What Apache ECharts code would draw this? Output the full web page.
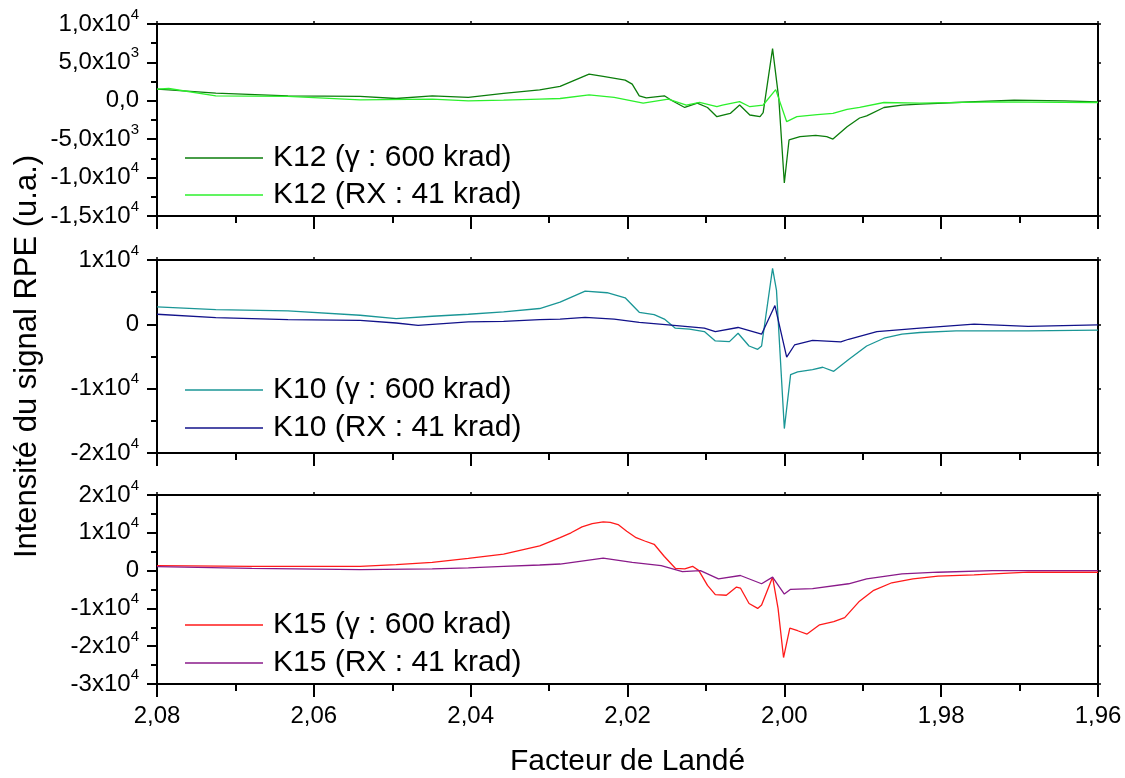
<!DOCTYPE html>
<html>
<head>
<meta charset="utf-8">
<script src="https://cdn.jsdelivr.net/npm/echarts@6/dist/echarts.min.js"></script>
<style>
html,body{margin:0;padding:0;background:#fff;}
#chart{width:1125px;height:778px;}
</style>
</head>
<body>
<div id="chart"></div>
<script>
// ---------- DATA ----------
const xTickValues = [2.08, 2.06, 2.04, 2.02, 2.00, 1.98, 1.96];
const xTickLabels = ['2,08', '2,06', '2,04', '2,02', '2,00', '1,98', '1,96'];

const yTicks1 = [10000, 5000, 0, -5000, -10000, -15000];
const yLabels1 = ['1,0x10^4', '5,0x10^3', '0,0', '-5,0x10^3', '-1,0x10^4', '-1,5x10^4'];
const yTicks2 = [10000, 0, -10000, -20000];
const yLabels2 = ['1x10^4', '0', '-1x10^4', '-2x10^4'];
const yTicks3 = [20000, 10000, 0, -10000, -20000, -30000];
const yLabels3 = ['2x10^4', '1x10^4', '0', '-1x10^4', '-2x10^4', '-3x10^4'];

const seriesNames = [
  'K12 (γ : 600 krad)', 'K12 (RX : 41 krad)',
  'K10 (γ : 600 krad)', 'K10 (RX : 41 krad)',
  'K15 (γ : 600 krad)', 'K15 (RX : 41 krad)'
];

// K12 gamma
const gK12g = [2.0800, 2.0785, 2.0725, 2.0633, 2.0541, 2.0495, 2.0449, 2.0403, 2.0358, 2.0312, 2.0286, 2.0249, 2.0231, 2.0203, 2.0194, 2.0185, 2.0176, 2.0153, 2.0143, 2.0127, 2.0111, 2.0098, 2.0086, 2.0069, 2.0057, 2.0044, 2.0031, 2.0027, 2.0015, 2.0007, 2.0000, 1.9994, 1.9980, 1.9960, 1.9946, 1.9938, 1.9920, 1.9904, 1.9895, 1.9873, 1.9850, 1.9827, 1.9781, 1.9707, 1.9643, 1.9600];
const vK12g = [1520, 1430, 1000, 650, 565, 300, 650, 435, 960, 1430, 1870, 3480, 3175, 2700, 2175, 650, 390, 650, 0, -870, -300, -870, -2070, -1640, -550, -1850, -2070, -1550, 6800, 220, -10700, -5100, -4670, -4500, -4670, -4980, -3370, -2240, -1960, -870, -565, -435, -220, 90, 0, -130];
// K12 RX
const gK12x = [2.0800, 2.0785, 2.0725, 2.0633, 2.0541, 2.0449, 2.0403, 2.0358, 2.0312, 2.0286, 2.0249, 2.0217, 2.0180, 2.0148, 2.0125, 2.0108, 2.0086, 2.0079, 2.0057, 2.0044, 2.0027, 2.0011, 1.9997, 1.9984, 1.9958, 1.9938, 1.9920, 1.9904, 1.9873, 1.9827, 1.9735, 1.9600];
const vK12x = [1520, 1600, 650, 565, 130, 220, 0, 90, 220, 300, 780, 435, -300, 220, -565, -200, -770, -565, -110, -770, -550, 1450, -2720, -2070, -1800, -1640, -1110, -850, -220, -300, -130, -220];

// K10 gamma
const gK10g = [2.0800, 2.0725, 2.0633, 2.0541, 2.0495, 2.0449, 2.0403, 2.0358, 2.0312, 2.0286, 2.0254, 2.0226, 2.0203, 2.0185, 2.0166, 2.0153, 2.0139, 2.0121, 2.0102, 2.0088, 2.0070, 2.0059, 2.0045, 2.0034, 2.0029, 2.0015, 2.0010, 2.0000, 1.9992, 1.9983, 1.9964, 1.9951, 1.9937, 1.9918, 1.9895, 1.9873, 1.9850, 1.9827, 1.9781, 1.9689, 1.9600];
const vK10g = [2720, 2300, 2100, 1410, 890, 1260, 1570, 1940, 2460, 3440, 5170, 4910, 4120, 1870, 1500, 820, -590, -750, -1120, -2580, -2690, -1380, -3370, -3890, -3370, 8700, 5280, -16200, -7820, -7400, -7040, -6670, -7300, -5460, -3370, -2160, -1530, -1270, -1010, -1010, -900];
// K10 RX
const gK10x = [2.0800, 2.0725, 2.0633, 2.0541, 2.0495, 2.0467, 2.0403, 2.0358, 2.0312, 2.0286, 2.0254, 2.0217, 2.0185, 2.0148, 2.0102, 2.0088, 2.0059, 2.0029, 2.0012, 1.9997, 1.9987, 1.9964, 1.9928, 1.9918, 1.9882, 1.9827, 1.9758, 1.9689, 1.9600];
const vK10x = [1570, 1050, 730, 630, 210, -160, 370, 470, 730, 800, 1080, 820, 300, -70, -590, -1120, -490, -1530, 2920, -5100, -3210, -2480, -2740, -2320, -1120, -590, 40, -330, -70];

// K15 gamma
const gK15g = [2.0800, 2.0679, 2.0541, 2.0495, 2.0449, 2.0403, 2.0358, 2.0312, 2.0286, 2.0272, 2.0258, 2.0245, 2.0231, 2.0222, 2.0212, 2.0201, 2.0189, 2.0178, 2.0166, 2.0153, 2.0139, 2.0127, 2.0117, 2.0109, 2.0098, 2.0088, 2.0074, 2.0061, 2.0056, 2.0045, 2.0034, 2.0029, 2.0015, 2.0008, 2.0001, 1.9993, 1.9983, 1.9971, 1.9955, 1.9937, 1.9923, 1.9905, 1.9886, 1.9863, 1.9836, 1.9804, 1.9758, 1.9689, 1.9600];
const vK15g = [1300, 1130, 1130, 1570, 2170, 3220, 4350, 6520, 8700, 10000, 11570, 12430, 12870, 12780, 12170, 10430, 8700, 7830, 6960, 3740, 610, 430, 1130, 0, -3910, -6350, -6520, -4350, -4610, -8700, -10000, -9130, -1740, -10000, -23000, -15220, -15910, -16780, -14350, -13480, -12440, -8260, -5220, -3220, -2170, -1480, -1130, -430, -430];
// K15 RX
const gK15x = [2.0800, 2.0679, 2.0541, 2.0449, 2.0403, 2.0358, 2.0312, 2.0286, 2.0231, 2.0194, 2.0157, 2.0130, 2.0107, 2.0084, 2.0056, 2.0029, 2.0015, 2.0000, 1.9992, 1.9964, 1.9918, 1.9895, 1.9850, 1.9804, 1.9735, 1.9600];
const vK15x = [1040, 610, 260, 430, 700, 1130, 1480, 1740, 3300, 2170, 1300, -260, 0, -2170, -1300, -3480, -1740, -6200, -4960, -4780, -3480, -2170, -870, -430, 0, 0];

// ---------- CHART ----------
const zip = (xs, ys) => xs.map((x, i) => [x, ys[i]]);
const FONT = 'Liberation Sans, Arial, sans-serif';
const colors = ['#0b7d0b', '#2cf02c', '#1a9696', '#12128a', '#ff1a1a', '#8a1a8a'];

const grids = [
  { left: 157, width: 941, top: 24, height: 192 },
  { left: 157, width: 941, top: 260, height: 193 },
  { left: 157, width: 941, top: 495, height: 192 }
];
const yRanges = [
  { min: -15000, max: 10000, interval: 5000, ticks: yTicks1, labels: yLabels1 },
  { min: -20000, max: 10000, interval: 10000, ticks: yTicks2, labels: yLabels2 },
  { min: -30000, max: 20000, interval: 10000, ticks: yTicks3, labels: yLabels3 }
];

function yFormatter(ticks, labels) {
  return function (v) {
    const i = ticks.indexOf(Math.round(v));
    if (i < 0) return '';
    const p = labels[i].split('^');
    return p.length > 1 ? '{m|' + p[0] + '}{e|' + p[1] + '}' : '{m|' + p[0] + '}';
  };
}
function xFormatter(v) {
  let best = 0;
  for (let i = 0; i < xTickValues.length; i++) {
    if (Math.abs(xTickValues[i] - v) < Math.abs(xTickValues[best] - v)) best = i;
  }
  return xTickLabels[best];
}

const axisLineStyle = { lineStyle: { color: '#000', width: 2 } };
const xAxes = [];
const yAxes = [];
for (let k = 0; k < 3; k++) {
  xAxes.push({
    type: 'value', gridIndex: k, position: 'bottom', inverse: true,
    min: 1.96, max: 2.08, interval: 0.02,
    axisLine: { show: true, onZero: false, lineStyle: { color: '#000', width: 2 } },
    axisTick: { show: true, length: 13, lineStyle: { color: '#000', width: 2 } },
    minorTick: { show: true, splitNumber: 2, length: 7, lineStyle: { color: '#000', width: 2 } },
    splitLine: { show: false },
    axisLabel: { show: k === 2, formatter: xFormatter, margin: 20, color: '#000', fontSize: 24, fontFamily: FONT },
    name: k === 2 ? 'Facteur de Landé' : '',
    nameLocation: 'middle', nameGap: 63,
    nameTextStyle: { color: '#000', fontSize: 30, fontFamily: FONT }
  });
}
for (let k = 0; k < 3; k++) {
  xAxes.push({
    type: 'value', gridIndex: k, position: 'top', inverse: true,
    min: 1.96, max: 2.08, interval: 0.02,
    axisLine: { show: true, onZero: false, lineStyle: { color: '#000', width: 2 } },
    axisTick: { show: true, inside: false, length: 3, lineStyle: { color: '#000', width: 1.5 } },
    splitLine: { show: false },
    axisLabel: { show: false }
  });
}
for (let k = 0; k < 3; k++) {
  const r = yRanges[k];
  yAxes.push({
    type: 'value', gridIndex: k, position: 'left',
    min: r.min, max: r.max, interval: r.interval,
    axisLine: { show: true, onZero: false, lineStyle: { color: '#000', width: 2 } },
    axisTick: { show: true, length: 10, lineStyle: { color: '#000', width: 2 } },
    minorTick: { show: true, splitNumber: 2, length: 6, lineStyle: { color: '#000', width: 2 } },
    splitLine: { show: false },
    axisLabel: {
      formatter: yFormatter(r.ticks, r.labels), margin: 18, color: '#000',
      rich: {
        m: { fontSize: 24, lineHeight: 34, fontFamily: FONT, color: '#000' },
        e: { fontSize: 15, lineHeight: 16, verticalAlign: 'top', fontFamily: FONT, color: '#000' }
      }
    },
    name: k === 1 ? 'Intensité du signal RPE (u.a.)' : '',
    nameLocation: 'middle', nameGap: 114, nameRotate: 90,
    nameTextStyle: { color: '#000', fontSize: 31, fontFamily: FONT }
  });
}
for (let k = 0; k < 3; k++) {
  const r = yRanges[k];
  yAxes.push({
    type: 'value', gridIndex: k, position: 'right',
    min: r.min, max: r.max, interval: r.interval,
    axisLine: { show: true, onZero: false, lineStyle: { color: '#000', width: 2 } },
    axisTick: { show: true, length: 3, lineStyle: { color: '#000', width: 1.5 } },
    splitLine: { show: false },
    axisLabel: { show: false }
  });
}

const dataSets = [
  zip(gK12g, vK12g), zip(gK12x, vK12x),
  zip(gK10g, vK10g), zip(gK10x, vK10x),
  zip(gK15g, vK15g), zip(gK15x, vK15x)
];
const series = dataSets.map((d, i) => ({
  name: seriesNames[i], type: 'line', data: d,
  xAxisIndex: Math.floor(i / 2), yAxisIndex: Math.floor(i / 2),
  symbol: 'none', showSymbol: false, smooth: false,
  lineStyle: { width: 1.3, color: colors[i] }, itemStyle: { color: colors[i] },
  animation: false, z: 2 + (i % 2)
}));

const legendTops = [143, 375, 610];
const legendGaps = [7, 8, 8];
const legends = [0, 1, 2].map(k => ({
  data: [seriesNames[2 * k], seriesNames[2 * k + 1]],
  orient: 'vertical', left: 185, top: legendTops[k],
  itemWidth: 78, itemHeight: 1.5, itemGap: legendGaps[k], icon: 'rect',
  padding: 0, selectedMode: false,
  textStyle: { fontSize: 30, lineHeight: 30, fontFamily: FONT, color: '#000', padding: [0, 0, 0, 5] }
}));

const chart = echarts.init(document.getElementById('chart'), null, { renderer: 'canvas' });
chart.setOption({
  backgroundColor: '#fff',
  animation: false,
  grid: grids,
  xAxis: xAxes,
  yAxis: yAxes,
  legend: legends,
  series: series
});
</script>
</body>
</html>
